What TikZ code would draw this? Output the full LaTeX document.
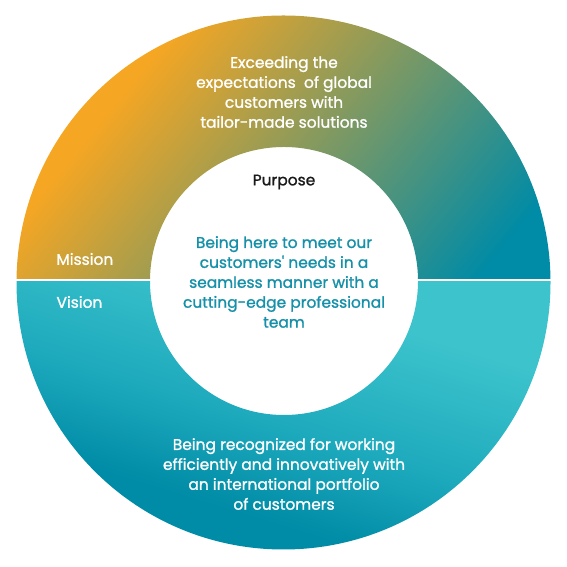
\documentclass[tikz,border=0pt]{standalone}
\usepackage{fontspec}
\setmainfont{Poppins}
\newfontfamily\ringfont{Poppins}[FakeBold=1.2]
\definecolor{missionorange}{HTML}{F5A623}
\definecolor{deepteal}{HTML}{008BA6}
\definecolor{midteal}{HTML}{1EAABD}
\definecolor{lightteal}{HTML}{3CC3CC}
\definecolor{purposeteal}{HTML}{1590A9}
\pgfdeclarehorizontalshading{missionshade}{100bp}{color(0bp)=(missionorange); color(27bp)=(missionorange); color(64bp)=(deepteal); color(100bp)=(deepteal)}
\pgfdeclarehorizontalshading{visionshade}{100bp}{color(0bp)=(lightteal); color(51bp)=(lightteal); color(63bp)=(midteal); color(72bp)=(deepteal); color(100bp)=(deepteal)}
\tikzset{ringtext/.style={text=white,align=center,font=\ringfont\fontsize{15.5}{20}\selectfont},
  tag/.style={text=white,anchor=west,font=\ringfont\fontsize{15.5}{20}\selectfont},
  coretext/.style={text=purposeteal,align=center,font=\ringfont\fontsize{15.5}{20}\selectfont}}

\begin{document}
\begin{tikzpicture}[x=1bp,y=1bp]
\useasboundingbox (0,0) rectangle (567,567);
\coordinate (c) at (283.5,284.5);\coordinate (ci) at (284,286);
% upper half: mission
\begin{scope}\clip (0,288) rectangle (567,567);
\shade[even odd rule,shading=missionshade,shading angle=-39] (c) circle[radius=267] (ci) circle[radius=134];
\end{scope}
% lower half: vision
\begin{scope}\clip (0,0) rectangle (567,285);
\shade[even odd rule,shading=visionshade,shading angle=-107] (c) circle[radius=267] (ci) circle[radius=134];
\end{scope}
\node[ringtext] (missiontext) at (284,475){Exceeding the\\expectations\ \ of global\\customers with\\tailor-made solutions};
\node[tag] (mission) at (53,308){Mission};
\node[tag] (vision) at (53,265){Vision};
\node[font=\ringfont\fontsize{15.5}{20}\selectfont,text=black!90] (purpose) at (284,385){Purpose};
\node[coretext] (purposetext) at (284,285){Being here to meet our\\customers\textquotesingle{} needs in a\\seamless manner with a\\cutting-edge professional\\team};
\node[ringtext] (visiontext) at (284,93){Being recognized for working\\efficiently and innovatively with\\an international portfolio\\of customers};
\end{tikzpicture}
\end{document}
